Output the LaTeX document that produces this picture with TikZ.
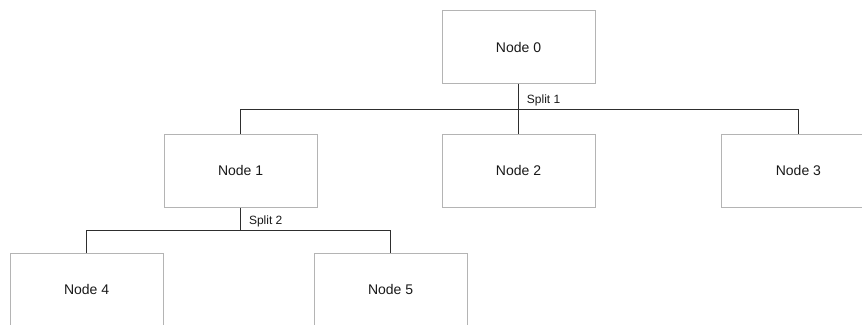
\documentclass[tikz,border=0pt]{standalone}
\usepackage{fontspec}
\setmainfont{Liberation Sans}
\usetikzlibrary{positioning, calc}
\definecolor{boxgray}{HTML}{B4B4B4}
\definecolor{linegray}{HTML}{2E2E2E}

\begin{document}
\begin{tikzpicture}[x=1pt, y=1pt, node distance=50pt, line width=0.9pt,
    treenode/.style={draw=boxgray, fill=white, minimum width=153pt, minimum height=73pt, inner sep=0pt, font=\fontsize{14}{16}\selectfont, text=black!90},
    branch/.style={draw=linegray},
    splitlabel/.style={anchor=south west, inner sep=3pt, xshift=5pt, font=\fontsize{12}{14}\selectfont, text=black!90}]
      \useasboundingbox (0,0) rectangle (862,-324);
      \node[treenode] (n0) at (518.5,-47) {Node 0};
      \node[treenode] (n2) [below=50pt of n0] {Node 2};
      \node[treenode] (n1) [left=124pt of n2] {Node 1};
      \node[treenode] (n3) [right=126pt of n2] {Node 3};
      \node[treenode] (n4) [below=45pt of n1, xshift=-154pt] {Node 4};
      \node[treenode] (n5) [below=45pt of n1, xshift=150pt] {Node 5};

      \coordinate (s1) at ($(n0.south)!0.5!(n2.north)$);
      \coordinate (s2) at ($(n1.south)!0.5!(n1.south |- n4.north)$);

      \draw[branch] (n0.south) -- (n2.north) (n1.north) |- (s1) -| (n3.north);
      \draw[branch] (n1.south) -- (s2) (n4.north) |- (s2) -| (n5.north);
      \node[splitlabel] (l1) at (s1) {Split 1};
      \node[splitlabel] (l2) at (s2) {Split 2};
    \end{tikzpicture}
\end{document}
